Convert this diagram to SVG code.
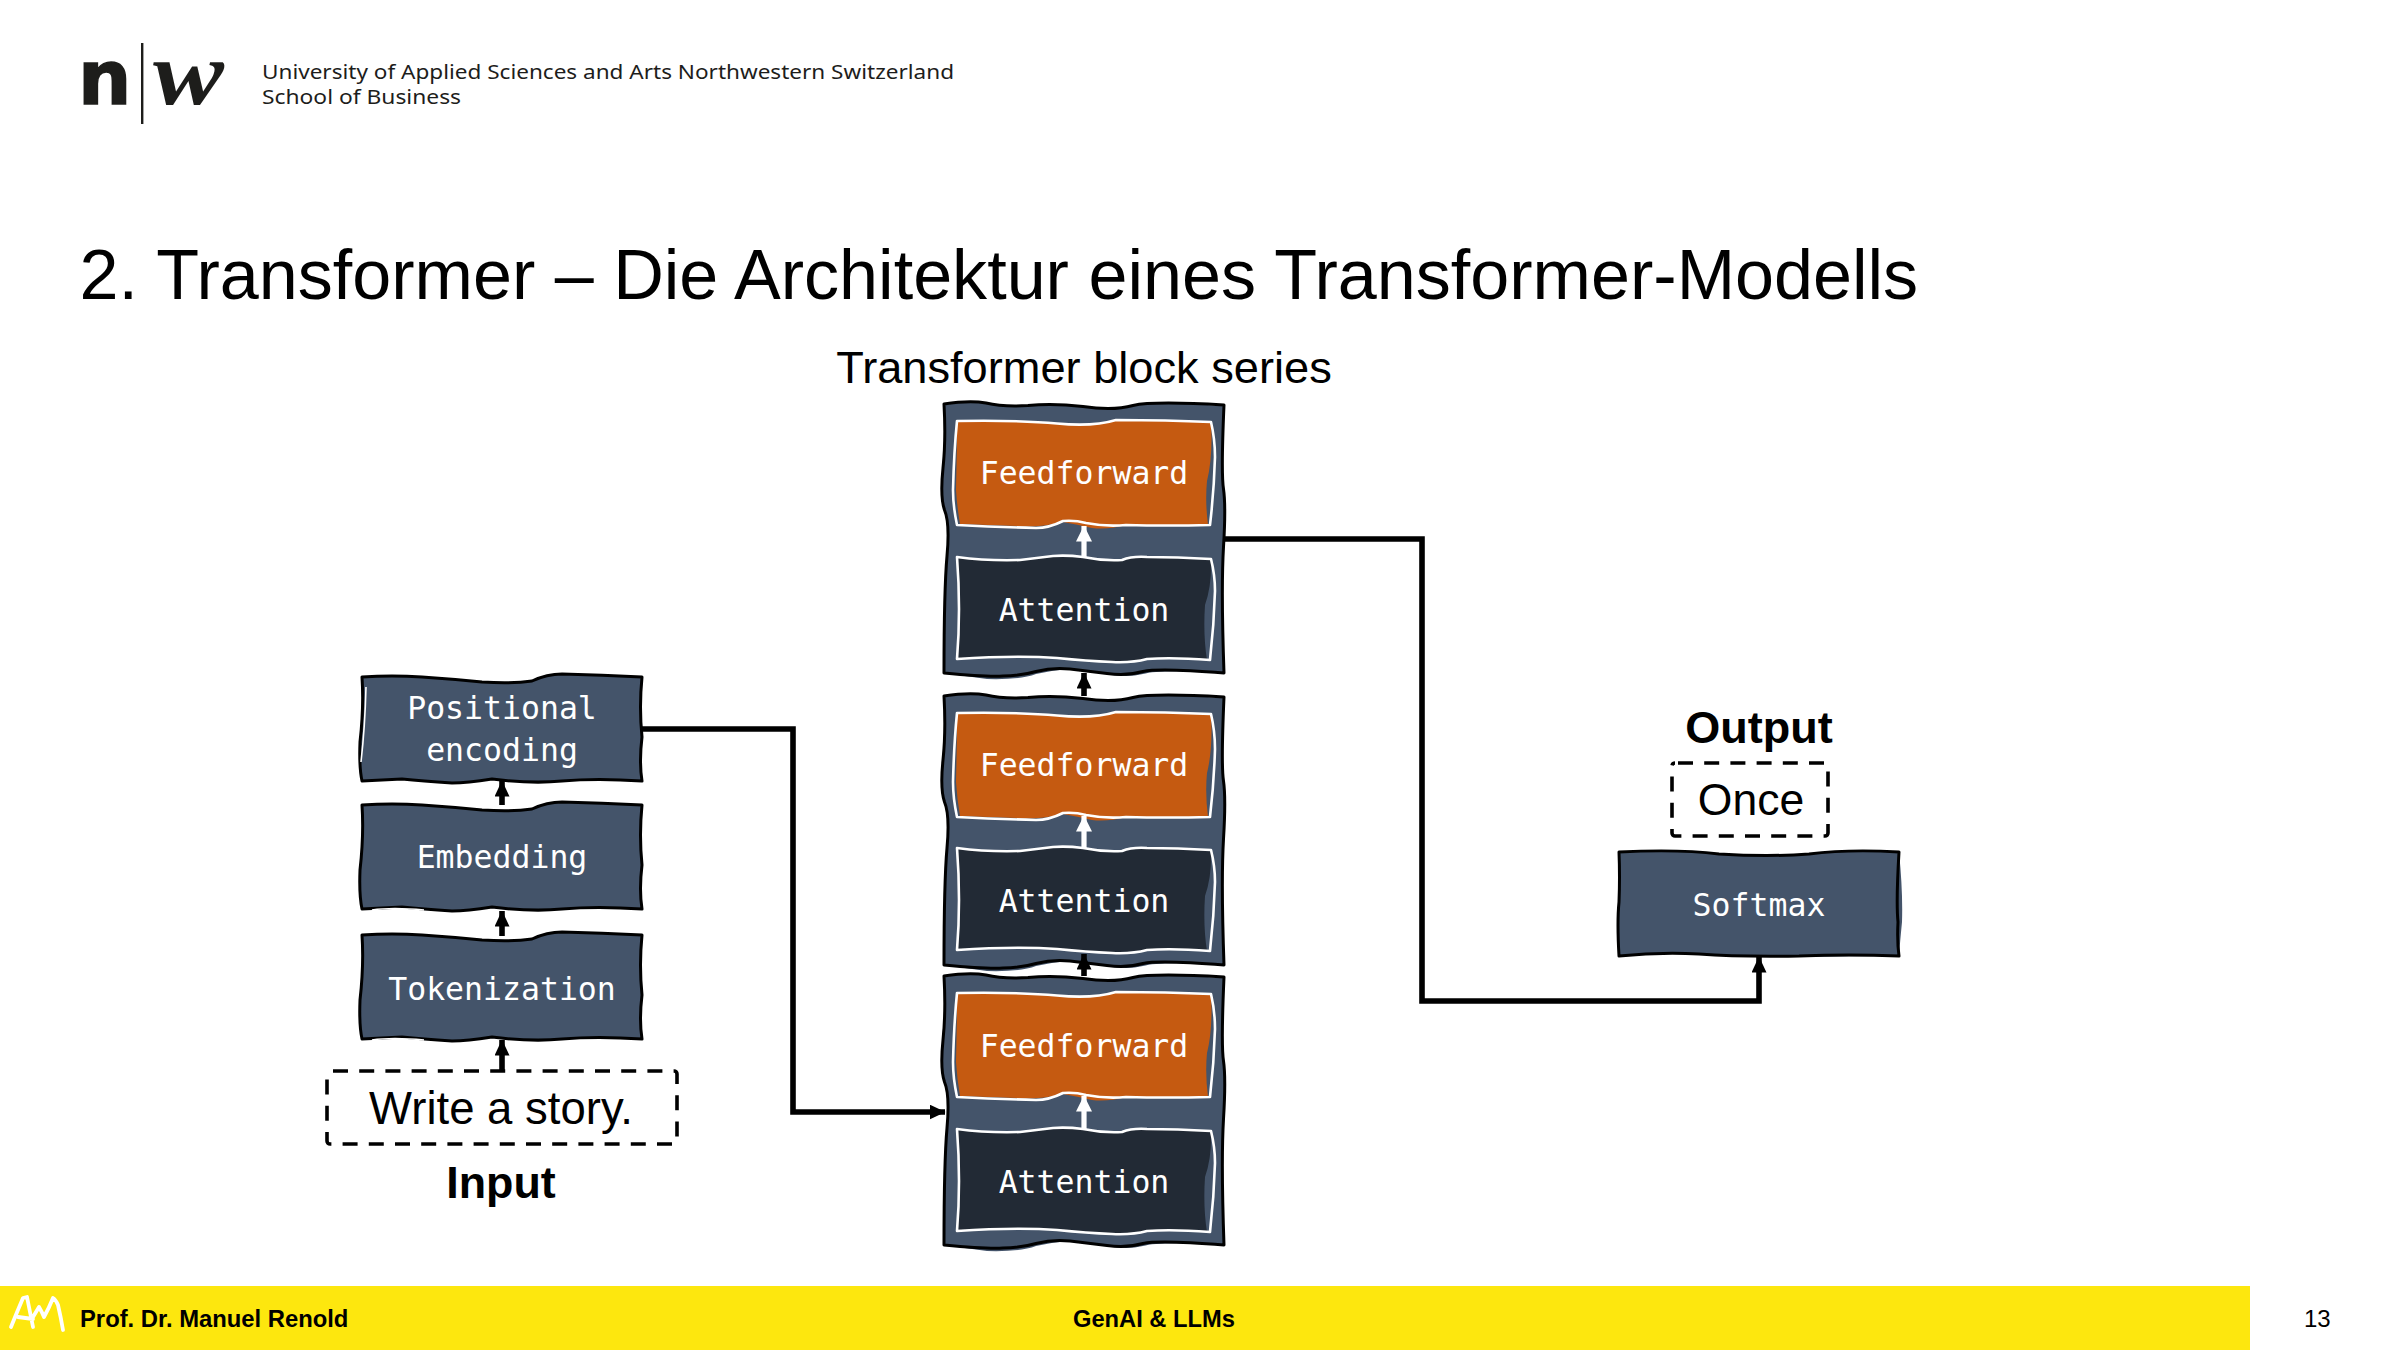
<svg xmlns="http://www.w3.org/2000/svg" width="2400" height="1350" viewBox="0 0 2400 1350">
<style>
.bg{fill:#fff}
.sans{font-family:"Liberation Sans",Arial,sans-serif;fill:#000}
.bold{font-weight:700}
.mono{font-family:"DejaVu Sans Mono","Liberation Mono",monospace;font-size:31.5px;fill:#fff;text-anchor:middle}
.slate{fill:#44546a}
.orange{fill:#c55a11}
.dark{fill:#222a35}
.sk{fill:none;stroke:#000;stroke-width:3;stroke-linejoin:round}
.wh{fill:none;stroke:#fff;stroke-width:2.6;stroke-linejoin:round}
.hint{fill:none;stroke:#fff;stroke-width:1.6}
.dash{fill:none;stroke:#000;stroke-width:3.6;stroke-dasharray:15 11.2}
.line{fill:none;stroke:#000;stroke-width:5.6}
.linew{fill:none;stroke:#fff;stroke-width:5.2}
</style>
<defs>
<path id="blockFill" d="M0 1Q26 -4 42 -1Q59 3 84 2Q109 -1 139 3Q169 8 189 2Q209 -3 280 2Q277 69 279 85Q282 102 279 143Q277 185 280 269Q216 265 199 270Q183 274 163 270Q143 267 126 265Q109 266 92 270Q76 276 43 275Q20 272 0 269Q0 186 3 152Q6 119 0 106Q-5 93 -2 64Q1 36 0 1Z"/>
<path id="blockLine" d="M0 0Q26 -4 42 -1Q59 3 84 1.5Q109 -1 139 2.5Q169 7 189 1.5Q209 -3 280 1Q277 69 279.5 85Q282 102 279.5 143Q277 185 280 269Q216 264 199 267.5Q183 272 163 269.5Q143 267 126 265Q109 263 92 267.5Q76 272 59 272Q43 273 0 269Q0 186 3 152Q6 119 .5 106Q-4 93 -1 64Q2 36 0 0Z"/>
<path id="blockHint" d="M-2 60Q-6 90 -4 108Q1 125 0 150"/>
<path id="ffFill" d="M0 0Q63 -1 100 3Q136 6 159 -1Q210 -1 254 1Q256 36 250 60Q248 80 251 104Q210 105 169 104Q150 109 135 107Q118 103 106 101Q80 107 60 105Q30 104 3 103Q0 85 -1 69Q0 30 0 0Z"/>
<path id="ffLine" d="M0 0Q63 -1 100 2.5Q136 6 159 -1Q210 -1 254 1Q258 18 258 36Q257 70 253 104Q210 105 169 104Q150 106 129 102Q118 99 106 100Q92 107 79 107Q40 106 0 104Q-4 85 -4 69Q-3 30 0 0Z"/>
<path id="attFill" d="M0 2Q30 6 63 5Q80 3 96 1Q110 0 126 2Q145 6 165 5Q175 1 190 2Q220 2 254 4Q255 30 248 50Q246 80 250 105Q215 102 190 104Q175 108 155 107Q130 106 100 103Q60 100 0 104Q2 80 2 54Q2 28 0 2Z"/>
<path id="attLine" d="M0 2Q30 6 63 5Q80 3 96 1Q110 0 126 2Q145 6 165 5Q175 1 190 2Q220 2 254 4Q258 20 258 36Q257 70 253 105Q215 102 190 104Q175 108 155 107Q130 106 100 103Q60 100 0 104Q2 80 2 54Q2 28 0 2Z"/>
<path id="boxFill" d="M0 0Q30 -2 60 0Q90 2 120 5Q150 7 170 4Q185 -3 200 -3Q240 -2 280 0Q277 30 280 60Q277 85 280 104Q235 101 200 104Q170 107 130 102Q105 106 90 106Q60 104 40 102Q20 103 0 104Q-3 90 -2 65Q2 30 0 0Z"/>
<path id="boxLine" d="M0 0Q30 -2 60 0Q90 2 120 5Q150 7 170 4Q185 -3 200 -3Q240 -2 280 0Q277 30 280 60Q277 85 280 104Q235 101 200 104Q170 107 130 102Q105 106 90 106Q60 104 40 102Q20 103 0 104Q-3 90 -2 65Q2 30 0 0Z"/>
<marker id="ah" viewBox="0 0 16 15" refX="15.5" refY="7.5" markerUnits="userSpaceOnUse" markerWidth="16" markerHeight="15" orient="auto"><path d="M0 0L16 7.5L0 15Z" fill="#000"/></marker>
<marker id="ahw" viewBox="0 0 16 16" refX="15.5" refY="8" markerUnits="userSpaceOnUse" markerWidth="16" markerHeight="16" orient="auto"><path d="M0 0L16 8L0 16Z" fill="#fff"/></marker>
</defs>
<rect class="bg" width="2400" height="1350"/>

<g id="header">
<text x="78" y="104" font-family="'DejaVu Sans',sans-serif" font-weight="700" font-size="75" fill="#1d1d1b" stroke="#1d1d1b" stroke-width="1.5">n</text>
<rect x="141" y="43" width="2.4" height="81" fill="#1d1d1b"/>
<text x="153" y="104" font-family="'Liberation Serif',serif" font-weight="700" font-style="italic" font-size="92" fill="#1d1d1b" textLength="71" lengthAdjust="spacingAndGlyphs">w</text>
<text x="262" y="79" font-family="'Noto Sans',sans-serif" font-size="20" fill="#1d1d1b" textLength="692" lengthAdjust="spacingAndGlyphs">University of Applied Sciences and Arts Northwestern Switzerland</text>
<text x="262" y="104" font-family="'Noto Sans',sans-serif" font-size="20" fill="#1d1d1b" textLength="199" lengthAdjust="spacingAndGlyphs">School of Business</text>
</g>
<text id="title" class="sans" x="79.5" y="299" font-size="70.1">2. Transformer – Die Architektur eines Transformer-Modells</text>
<text id="series-label" class="sans" x="1084" y="383" font-size="45.2" text-anchor="middle">Transformer block series</text>

<g id="input-label"><text class="sans bold" x="501" y="1198" font-size="44.8" text-anchor="middle">Input</text></g>
<g id="input"><rect class="dash" x="327" y="1071" width="350" height="73" rx="3" stroke-dashoffset="-3"/><text class="sans" x="501" y="1124" font-size="45.5" text-anchor="middle">Write a story.</text></g>

<g id="tokenization" transform="translate(362 935)"><use href="#boxFill" class="slate"/><use href="#boxLine" class="sk"/><path class="hint" d="M10 105Q30 102 62 105"/><text class="mono" x="140" y="65">Tokenization</text></g>
<g id="embedding" transform="translate(362 805)"><use href="#boxFill" class="slate"/><use href="#boxLine" class="sk"/><path class="hint" d="M10 105Q30 102 62 105"/><text class="mono" x="140" y="63">Embedding</text></g>
<g id="positional" transform="translate(362 677)"><use href="#boxFill" class="slate"/><use href="#boxLine" class="sk"/><path class="hint" d="M4 10Q3 50 -1 85"/><text class="mono" x="140" y="42">Positional</text><text class="mono" x="140" y="84">encoding</text></g>

<g id="block-3" transform="translate(944 976)"><use href="#blockFill" class="slate"/><use href="#blockHint" class="hint"/><use href="#blockLine" class="sk"/>
<g id="ff-3" transform="translate(13 17)"><use href="#ffFill" class="orange"/><use href="#ffLine" class="wh"/><text class="mono" x="127" y="64">Feedforward</text></g>
<g id="att-3" transform="translate(13 151)"><use href="#attFill" class="dark"/><use href="#attLine" class="wh"/><text class="mono" x="127" y="66">Attention</text></g></g>

<g id="block-2" transform="translate(944 696)"><use href="#blockFill" class="slate"/><use href="#blockHint" class="hint"/><use href="#blockLine" class="sk"/>
<g id="ff-2" transform="translate(13 17)"><use href="#ffFill" class="orange"/><use href="#ffLine" class="wh"/><text class="mono" x="127" y="63">Feedforward</text></g>
<g id="att-2" transform="translate(13 150)"><use href="#attFill" class="dark"/><use href="#attLine" class="wh"/><text class="mono" x="127" y="66">Attention</text></g></g>

<g id="block-1" transform="translate(944 404)"><use href="#blockFill" class="slate"/><use href="#blockHint" class="hint"/><use href="#blockLine" class="sk"/>
<g id="ff-1" transform="translate(13 17)"><use href="#ffFill" class="orange"/><use href="#ffLine" class="wh"/><text class="mono" x="127" y="63">Feedforward</text></g>
<g id="att-1" transform="translate(13 151)"><use href="#attFill" class="dark"/><use href="#attLine" class="wh"/><text class="mono" x="127" y="66">Attention</text></g></g>

<g id="softmax" transform="translate(1619 852)"><path class="slate" d="M0 0Q60 -3 100 2Q150 5 190 2Q230 -3 280 0Q284 40 283 70Q281 90 280 104Q230 104 180 105Q120 105 80 102Q40 100 0 104Q-2 70 0 50Q1 25 0 0Z"/><path class="sk" d="M0 0Q60 -3 100 2Q150 5 190 2Q230 -3 280 0Q277 50 279 70Q278 90 280 104Q230 102 180 104Q120 105 80 102Q40 100 0 104Q-2 70 0 50Q1 25 0 0Z"/><text class="mono" x="140" y="64">Softmax</text></g>
<g id="output"><rect class="dash" x="1672" y="763" width="156" height="73" rx="3" stroke-dashoffset="-3"/><text class="sans" x="1751" y="815" font-size="44.5" text-anchor="middle">Once</text></g>
<g id="output-label"><text class="sans bold" x="1759" y="743" font-size="45" text-anchor="middle">Output</text></g>

<g id="connectors">
<path class="line" d="M502 1071V1040" marker-end="url(#ah)"/>
<path class="line" d="M502 936V911" marker-end="url(#ah)"/>
<path class="line" d="M502 805V781" marker-end="url(#ah)"/>
<path class="line" d="M642 729H793V1112H945" marker-end="url(#ah)"/>
<path class="linew" d="M1084 1129V1096" marker-end="url(#ahw)"/>
<path class="line" d="M1084 976V954" marker-end="url(#ah)"/>
<path class="linew" d="M1084 848V816" marker-end="url(#ahw)"/>
<path class="line" d="M1084 696V673" marker-end="url(#ah)"/>
<path class="linew" d="M1084 557V526" marker-end="url(#ahw)"/>
<path class="line" d="M1224 539H1422V1001H1759V957" marker-end="url(#ah)"/>
</g>

<g id="footer">
<rect x="0" y="1286" width="2250" height="64" fill="#fde70e"/>
<path d="M11 1327Q17 1312 23 1298L27 1297Q30 1312 33 1327M18 1317L33 1319M33 1317L39 1307Q42 1312 44 1317Q49 1308 53 1298Q56 1300 58 1305Q61 1318 63 1330" fill="none" stroke="#fff" stroke-width="3.8" stroke-linecap="round" stroke-linejoin="round"/>
<text class="sans bold" x="80" y="1327" font-size="23.8">Prof. Dr. Manuel Renold</text>
<text class="sans bold" x="1073" y="1327" font-size="23.7">GenAI &amp; LLMs</text>
<text class="sans" x="2304" y="1327" font-size="24">13</text>
</g>
</svg>
